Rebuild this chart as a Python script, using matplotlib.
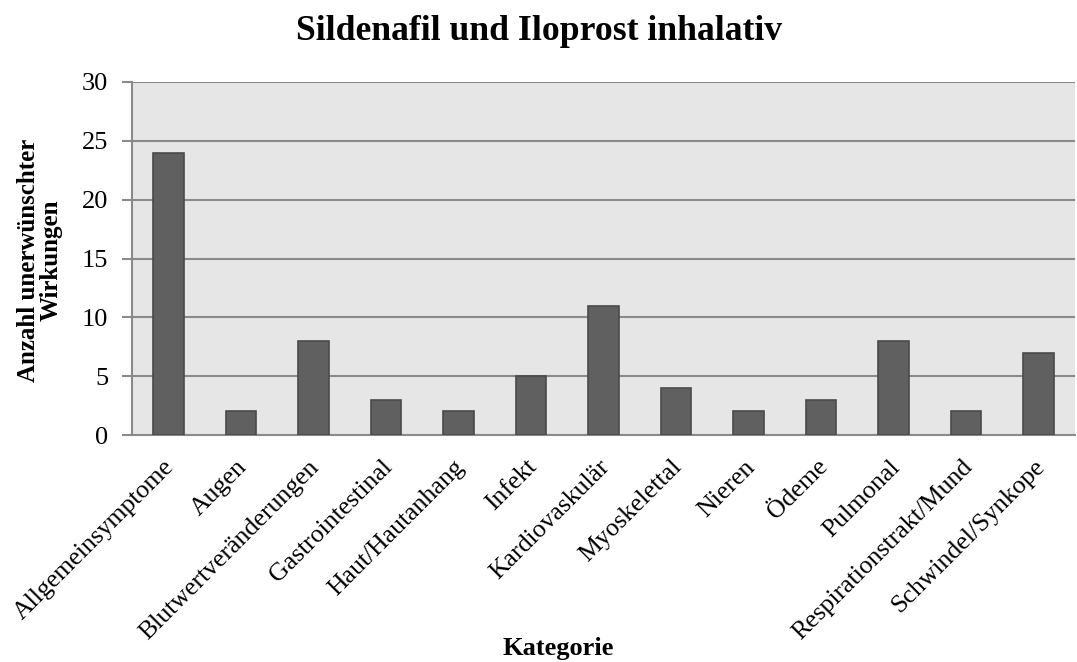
import matplotlib
matplotlib.use("Agg")
import matplotlib.pyplot as plt
from matplotlib.transforms import ScaledTranslation

categories = ["Allgemeinsymptome", "Augen", "Blutwertveränderungen", "Gastrointestinal",
              "Haut/Hautanhang", "Infekt", "Kardiovaskulär", "Myoskelettal", "Nieren",
              "Ödeme", "Pulmonal", "Respirationstrakt/Mund", "Schwindel/Synkope"]
values = [24, 2, 8, 3, 2, 5, 11, 4, 2, 3, 8, 2, 7]
yticks = [0, 5, 10, 15, 20, 25, 30]

plt.rcParams['font.family'] = ['Liberation Serif', 'DejaVu Serif']

fig = plt.figure(figsize=(10.77, 6.62), dpi=100)
ax = fig.add_axes([132/1077, 1-435/662, (1075-132)/1077, (435-82)/662])
ax.set_facecolor('#e6e6e6')
x = list(range(len(categories)))
ax.bar(x, values, width=0.42, color='#606060', edgecolor='#4a4a4a', linewidth=1.2, zorder=3)
ax.set_xlim(-0.5, len(categories)-0.5)
ax.set_ylim(0, 30)
ax.set_yticks(yticks)
ax.set_yticklabels([str(v) for v in yticks], fontsize=19)
ax.yaxis.grid(True, color='#8a8a8a', linewidth=1.5, zorder=1)
ax.set_axisbelow(True)
ax.set_xticks(x)
ax.set_xticklabels(categories, rotation=45, ha='right', rotation_mode='anchor', fontsize=18.5)
ax.tick_params(axis='x', length=0, pad=15)
ax.tick_params(axis='y', length=7, color='#8a8a8a', width=1.5, pad=10)
shift = ScaledTranslation(-5/100, 0, fig.dpi_scale_trans)
for lab in ax.get_xticklabels():
    lab.set_transform(lab.get_transform() + shift)
for s in ['top', 'right']:
    ax.spines[s].set_visible(False)
for s in ['left', 'bottom']:
    ax.spines[s].set_color('#8a8a8a')
    ax.spines[s].set_linewidth(1.5)
fig.text(40/1077, 1-260/662, "Anzahl unerwünschter\nWirkungen", fontsize=18, fontweight='bold',
         rotation=90, ha='center', va='center', linespacing=1.0, multialignment='center')
fig.text(558/1077, 1-648/662, "Kategorie", fontsize=19, fontweight='bold', ha='center', va='center')
fig.text(539/1077, 1-32/662, "Sildenafil und Iloprost inhalativ", fontsize=25.7, fontweight='bold',
         ha='center', va='center')
fig.savefig("out.png", dpi=100)
